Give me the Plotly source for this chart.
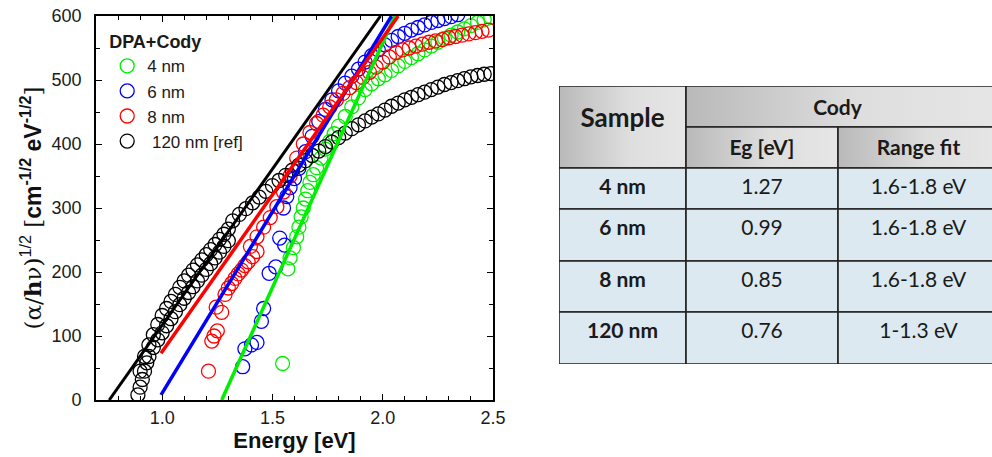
import plotly.graph_objects as go

# ---------------- data ----------------
e_4nm = [1.546, 1.57, 1.58, 1.595, 1.61, 1.62, 1.63, 1.64, 1.65, 1.66, 1.67, 1.685, 1.70, 1.72,
         1.74, 1.76, 1.78, 1.80, 1.83, 1.86, 1.89, 1.92, 1.95, 1.98, 2.01, 2.04, 2.07, 2.10,
         2.13, 2.16, 2.19, 2.22, 2.25, 2.28, 2.31, 2.34, 2.37, 2.40, 2.43, 2.46, 2.49]
v_4nm = [57, 205, 222, 238, 255, 270, 286, 300, 314, 327, 340, 352, 363, 378,
         392, 404, 416, 428, 443, 458, 472, 485, 494, 502, 508, 515, 522, 529,
         535, 541, 547, 553, 559, 565, 570, 575, 580, 585, 590, 594, 598]

e_6nm = [1.365, 1.375, 1.405, 1.43, 1.45, 1.46, 1.485, 1.515, 1.533, 1.555, 1.55, 1.565, 1.58,
         1.60, 1.62, 1.65, 1.68, 1.71, 1.74, 1.77, 1.80, 1.83, 1.86, 1.89, 1.92, 1.95, 1.98,
         2.01, 2.04, 2.07, 2.10, 2.13, 2.16, 2.19, 2.22, 2.25, 2.28, 2.31, 2.34]
v_6nm = [52, 80, 86, 90, 123, 143, 198, 208, 253, 242, 300, 318, 332,
         346, 362, 388, 412, 435, 454, 469, 483, 495, 506, 517, 528, 538, 547,
         555, 562, 568, 573, 578, 582, 586, 590, 593, 596, 599, 602]

e_8nm = [1.21, 1.225, 1.235, 1.25, 1.245, 1.27, 1.285, 1.30, 1.315, 1.33, 1.345, 1.36, 1.375,
         1.39, 1.41, 1.43, 1.40, 1.43, 1.46, 1.49, 1.52, 1.55, 1.58, 1.61, 1.64, 1.67, 1.70,
         1.73, 1.76, 1.79, 1.82, 1.85, 1.88, 1.91, 1.94, 1.97, 2.00, 2.03, 2.06, 2.09, 2.12,
         2.15, 2.18, 2.21, 2.24, 2.27, 2.30, 2.33, 2.36, 2.39, 2.42, 2.45, 2.48]
v_8nm = [45, 92, 100, 108, 145, 137, 165, 175, 182, 190, 197, 203, 210,
         216, 224, 232, 240, 255, 270, 285, 302, 325, 350, 378, 400, 418, 432,
         445, 458, 469, 479, 488, 496, 504, 512, 520, 528, 536, 543, 547, 550,
         553, 556, 559, 561, 563, 566, 568, 570, 572, 574, 576, 578]

e_120nm = [0.89, 0.90, 0.91, 0.92, 0.93, 0.94, 0.96, 0.98, 1.00, 1.02, 1.04, 1.06, 1.08, 1.10,
           1.12, 1.14, 1.16, 1.18, 1.20, 1.22, 1.24, 1.26, 1.28, 1.30,
           0.90, 0.92, 0.94, 0.96, 0.98, 1.00, 1.02, 1.04, 1.06, 1.08, 1.10, 1.12, 1.14, 1.16,
           1.18, 1.20, 1.22, 1.24, 1.26, 1.28, 1.30,
           1.32, 1.35, 1.38, 1.41, 1.44, 1.47, 1.50, 1.53, 1.56, 1.59, 1.62, 1.65, 1.68, 1.71,
           1.74, 1.77, 1.80, 1.83, 1.86, 1.89, 1.92, 1.95, 1.98, 2.01, 2.04, 2.07, 2.10, 2.13,
           2.16, 2.19, 2.22, 2.25, 2.28, 2.31, 2.34, 2.37, 2.40, 2.43, 2.46, 2.49]
v_120nm = [8, 20, 32, 45, 58, 68, 82, 94, 105, 116, 127, 138, 149, 159,
           168, 177, 186, 195, 204, 213, 222, 231, 240, 249,
           45, 68, 86, 102, 118, 132, 143, 154, 165, 176, 186, 195, 203, 211,
           219, 227, 235, 243, 251, 259, 267,
           280, 290, 299, 308, 317, 326, 335, 343, 351, 359, 367, 374, 382, 389,
           396, 403, 410, 417, 424, 430, 436, 442, 447, 453, 459, 464, 469, 473,
           477, 481, 485, 489, 493, 496, 499, 502, 505, 507, 509, 510]

# linear Cody fits (end points)
fit_4nm_x, fit_4nm_y = [1.27, 2.055], [0, 600]
fit_6nm_x, fit_6nm_y = [0.995, 2.04], [8, 600]
fit_8nm_x, fit_8nm_y = [0.995, 2.07], [73, 600]
fit_120nm_x, fit_120nm_y = [0.76, 1.99], [0, 600]

series_names = ["4 nm", "6 nm", "8 nm", "\u00a0120 nm [ref]"]
series_colors = ["#00ee00", "#0000ff", "#ff0000", "#000000"]

x_tickvals = [1.0, 1.5, 2.0, 2.5]
x_ticktext = ["1.0", "1.5", "2.0", "2.5"]
y_tickvals = [0, 100, 200, 300, 400, 500, 600]

# table content
tbl_header_top = ["Sample", "Cody"]
tbl_header_sub = ["Eg [eV]", "Range fit"]
tbl_samples = ["4 nm", "6 nm", "8 nm", "120 nm"]
tbl_eg = ["1.27", "0.99", "0.85", "0.76"]
tbl_range = ["1.6-1.8 eV", "1.6-1.8 eV", "1.6-1.8 eV", "1-1.3 eV"]

# ---------------- figure ----------------
fig = go.Figure()

data_sets = [(e_4nm, v_4nm), (e_6nm, v_6nm), (e_8nm, v_8nm), (e_120nm, v_120nm)]
fits = [(fit_4nm_x, fit_4nm_y), (fit_6nm_x, fit_6nm_y), (fit_8nm_x, fit_8nm_y), (fit_120nm_x, fit_120nm_y)]

for (ex, vy), name, col in zip(data_sets, series_names, series_colors):
    fig.add_trace(go.Scatter(
        x=ex, y=vy, mode="markers", name=name,
        marker=dict(symbol="circle-open", size=14, color=col, line=dict(width=1.3, color=col)),
        xaxis="x", yaxis="y", hoverinfo="skip"))

for (fx, fy), col in zip(fits, series_colors):
    fig.add_trace(go.Scatter(
        x=fx, y=fy, mode="lines", showlegend=False,
        line=dict(color=col, width=3.5 if col != "#000000" else 3),
        xaxis="x", yaxis="y", hoverinfo="skip"))

# ---------------- table on x2/y2 ----------------
col_edges = [0, 127, 279, 440]
row_edges = [0, 41, 82, 123, 175, 226, 278]
line_col = "#222222"
head_grad = dict(type="horizontal", colorscale=[[0, "#b9b9b9"], [0.55, "#dedede"], [1, "#e6e6e6"]])
body_fill = "#dce9f0"


def cell(x0, x1, y0, y1, grad=None, fill=None):
    kw = dict(x=[x0, x1, x1, x0, x0], y=[y0, y0, y1, y1, y0], mode="lines", fill="toself",
              line=dict(color=line_col, width=1.6), showlegend=False, hoverinfo="skip",
              xaxis="x2", yaxis="y2")
    if grad is not None:
        kw["fillgradient"] = grad
    else:
        kw["fillcolor"] = fill
    fig.add_trace(go.Scatter(**kw))


# header cells
cell(col_edges[0], col_edges[1], row_edges[0], row_edges[2], grad=head_grad)
cell(col_edges[1], col_edges[3], row_edges[0], row_edges[1], grad=head_grad)
cell(col_edges[1], col_edges[2], row_edges[1], row_edges[2], grad=head_grad)
cell(col_edges[2], col_edges[3], row_edges[1], row_edges[2], grad=head_grad)
# body cells
for r in range(len(tbl_samples)):
    for c in range(3):
        cell(col_edges[c], col_edges[c + 1], row_edges[r + 2], row_edges[r + 3], fill=body_fill)

col_mid = [(col_edges[i] + col_edges[i + 1]) / 2 for i in range(3)]
font_t = "Lato, Carlito, Calibri, sans-serif"

# header text
fig.add_trace(go.Scatter(
    x=[col_mid[0]], y=[34], mode="text", text=["<b>%s</b>" % tbl_header_top[0]],
    textfont=dict(family=font_t, size=26, color="#1a1a1a"), showlegend=False,
    hoverinfo="skip", xaxis="x2", yaxis="y2"))
fig.add_trace(go.Scatter(
    x=[(col_edges[1] + col_edges[3]) / 2 - 5, col_mid[1], col_mid[2]], y=[24, 64, 64], mode="text",
    text=["<b>%s</b>" % t for t in [tbl_header_top[1]] + tbl_header_sub],
    textfont=dict(family=font_t, size=21, color="#1a1a1a"), showlegend=False,
    hoverinfo="skip", xaxis="x2", yaxis="y2"))

row_text_y = [row_edges[r + 2] + 21 for r in range(len(tbl_samples))]
fig.add_trace(go.Scatter(
    x=[col_mid[0]] * 4, y=row_text_y, mode="text", text=["<b>%s</b>" % s for s in tbl_samples],
    textfont=dict(family=font_t, size=21, color="#1a1a1a"), showlegend=False,
    hoverinfo="skip", xaxis="x2", yaxis="y2"))
fig.add_trace(go.Scatter(
    x=[col_mid[1]] * 4, y=row_text_y, mode="text", text=tbl_eg,
    textfont=dict(family=font_t, size=21, color="#1a1a1a"), showlegend=False,
    hoverinfo="skip", xaxis="x2", yaxis="y2"))
fig.add_trace(go.Scatter(
    x=[col_mid[2]] * 4, y=row_text_y, mode="text", text=tbl_range,
    textfont=dict(family=font_t, size=21, color="#1a1a1a"), showlegend=False,
    hoverinfo="skip", xaxis="x2", yaxis="y2"))

# ---------------- layout ----------------
axis_font = "Liberation Sans, Arial, sans-serif"
ytitle = ('<span style="font-family:DejaVu Serif">(α/<b>h</b>ν)</span><sup>1/2</sup>'
          '<span style="font-family:DejaVu Serif"> [</span><b>cm<sup>-1/2</sup> eV<sup>-1/2</sup></b>'
          '<span style="font-family:DejaVu Serif">]</span>')

fig.update_layout(
    width=992, height=457,
    autosize=False,
    margin=dict(l=96, r=0, t=16, b=57, pad=0, autoexpand=False),
    paper_bgcolor="white", plot_bgcolor="white",
    font=dict(family=axis_font, size=18, color="#1a1a1a"),
    showlegend=True,
    legend=dict(
        x=0.0125, y=0.977, xanchor="left", yanchor="top",
        bgcolor="rgba(0,0,0,0)",
        title=dict(text="<b>DPA+Cody</b>", font=dict(family=axis_font, size=18, color="#1a1a1a")),
        font=dict(family=axis_font, size=17, color="#1a1a1a"),
        tracegroupgap=0, itemwidth=30,
    ),
    xaxis=dict(
        domain=[0, 397 / 896], range=[0.7, 2.5], tickvals=x_tickvals, ticktext=x_ticktext,
        ticks="inside", ticklen=6, tickwidth=1.3, tickcolor="black",
        minor=dict(dtick=0.1, ticks="inside", ticklen=4, tickwidth=1.1, tickcolor="black"),
        showline=True, linecolor="black", linewidth=1.6, mirror="allticks",
        showgrid=False, zeroline=False, automargin=False,
        tickfont=dict(family=axis_font, size=18, color="#1a1a1a"),
        ticklabelstandoff=1,
        title=dict(text="<b>Energy [eV]</b>", font=dict(family=axis_font, size=22, color="#111111"),
                   standoff=2),
    ),
    yaxis=dict(
        domain=[0, 1], range=[0, 600], tickvals=y_tickvals,
        ticks="inside", ticklen=6, tickwidth=1.3, tickcolor="black",
        minor=dict(dtick=50, ticks="inside", ticklen=4, tickwidth=1.1, tickcolor="black"),
        showline=True, linecolor="black", linewidth=1.6, mirror="allticks",
        showgrid=False, zeroline=False, automargin=False,
        tickfont=dict(family=axis_font, size=18, color="#1a1a1a"),
        ticklabelstandoff=9,
        title=dict(text=ytitle, font=dict(family=axis_font, size=23, color="#111111"), standoff=4),
    ),
    xaxis2=dict(domain=[463 / 896, 1], range=[0, 433], visible=False, fixedrange=True,
                automargin=False),
    yaxis2=dict(domain=[36 / 384, 314 / 384], range=[278, 0], visible=False, fixedrange=True,
                anchor="x2", automargin=False),
)
fig.update_layout(xaxis2_anchor="y2")

fig.write_html("out.html",
               config={"displayModeBar": False},
               post_script="document.body.style.margin='0';document.body.style.padding='0';")
